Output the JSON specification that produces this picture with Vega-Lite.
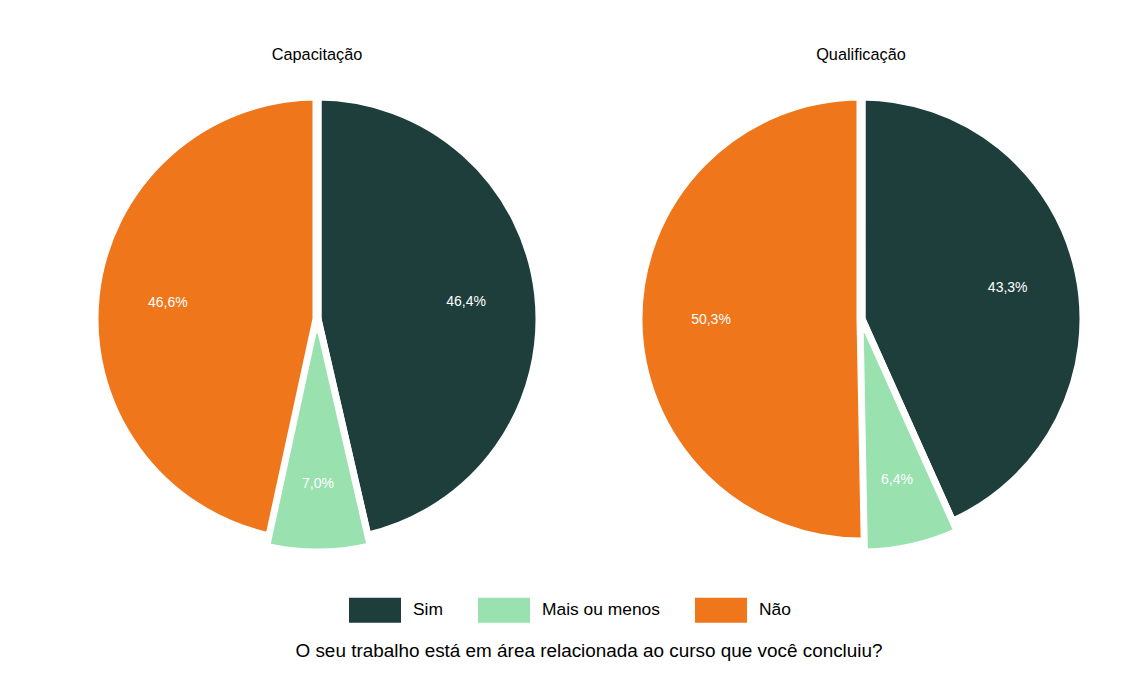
{
  "$schema": "https://vega.github.io/schema/vega-lite/v6.json",
  "background": "white",
  "padding": {"left": 67, "top": 46, "right": 20, "bottom": 10},
  "data": {"values": [
    {"curso": "Capacitação", "resposta": "Sim", "ordem": 1, "pct": 0.464},
    {"curso": "Capacitação", "resposta": "Mais ou menos", "ordem": 2, "pct": 0.070},
    {"curso": "Capacitação", "resposta": "Não", "ordem": 3, "pct": 0.466},
    {"curso": "Qualificação", "resposta": "Sim", "ordem": 1, "pct": 0.433},
    {"curso": "Qualificação", "resposta": "Mais ou menos", "ordem": 2, "pct": 0.064},
    {"curso": "Qualificação", "resposta": "Não", "ordem": 3, "pct": 0.503}
  ]},
  "facet": {
    "column": {
      "field": "curso", "type": "nominal", "title": null,
      "sort": ["Capacitação", "Qualificação"],
      "header": {"labelFontSize": 16.3, "labelFont": "Liberation Sans", "labelColor": "black", "labelPadding": 15}
    }
  },
  "spacing": 44,
  "spec": {
    "width": 500,
    "height": 460,
    "layer": [
      {
        "mark": {"type": "arc", "radius": 223, "stroke": "white", "strokeWidth": 9},
        "encoding": {
          "theta": {"field": "pct", "type": "quantitative", "stack": true, "scale": {"domain": [0, 1]}},
          "order": {"field": "ordem", "type": "quantitative"},
          "color": {
            "field": "resposta", "type": "nominal",
            "scale": {"domain": ["Sim", "Mais ou menos", "Não"], "range": ["#1e3e3b", "#99e1af", "#ef761b"]},
            "legend": {
              "orient": "none", "legendX": 282, "legendY": 495, "direction": "horizontal", "title": null,
              "symbolType": "M-1,-0.48H1V0.48H-1Z", "symbolSize": 2704, "symbolStrokeWidth": 0,
              "labelFontSize": 17.4, "labelFont": "Liberation Sans", "labelColor": "black",
              "labelOffset": 12, "columnPadding": 35
            }
          }
        }
      },
      {
        "transform": [
          {"stack": "pct", "groupby": ["curso"], "sort": [{"field": "ordem", "order": "ascending"}], "as": ["p0", "p1"]},
          {"filter": "datum.resposta === 'Mais ou menos'"}
        ],
        "mark": {"type": "arc", "radius": 232, "radius2": 12, "stroke": "white", "strokeWidth": 5},
        "encoding": {
          "theta": {"field": "p0", "type": "quantitative"},
          "theta2": {"field": "p1"},
          "color": {"field": "resposta", "type": "nominal"}
        }
      },
      {
        "mark": {"type": "text", "radius": 150, "fontSize": 14, "font": "Liberation Sans"},
        "encoding": {
          "theta": {"field": "pct", "type": "quantitative", "stack": true},
          "order": {"field": "ordem", "type": "quantitative"},
          "detail": {"field": "resposta", "type": "nominal"},
          "text": {"field": "pct", "type": "quantitative", "format": ".1%"},
          "color": {"value": "white"},
          "opacity": {"condition": {"test": "datum.resposta === 'Mais ou menos'", "value": 0}, "value": 1}
        }
      },
      {
        "mark": {"type": "text", "radius": 165, "fontSize": 14, "font": "Liberation Sans"},
        "encoding": {
          "theta": {"field": "pct", "type": "quantitative", "stack": true},
          "order": {"field": "ordem", "type": "quantitative"},
          "detail": {"field": "resposta", "type": "nominal"},
          "text": {"field": "pct", "type": "quantitative", "format": ".1%"},
          "color": {"value": "white"},
          "opacity": {"condition": {"test": "datum.resposta === 'Mais ou menos'", "value": 1}, "value": 0}
        }
      }
    ]
  },
  "title": {
    "text": "O seu trabalho está em área relacionada ao curso que você concluiu?",
    "orient": "bottom", "anchor": "middle", "fontSize": 18.9, "fontWeight": "normal",
    "font": "Liberation Sans", "color": "black", "offset": 19
  },
  "config": {
    "view": {"stroke": null},
    "locale": {"number": {"decimal": ",", "thousands": ".", "grouping": [3], "currency": ["R$", ""]}}
  }
}
